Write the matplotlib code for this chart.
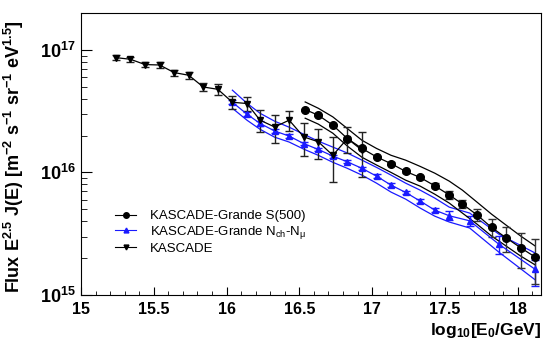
import matplotlib
matplotlib.use('Agg')
import matplotlib.pyplot as plt
from matplotlib.lines import Line2D
from matplotlib.ticker import FixedLocator, FixedFormatter, LogLocator, NullFormatter, MultipleLocator

plt.rcParams['font.family'] = ['Liberation Sans', 'DejaVu Sans']
plt.rcParams['mathtext.fontset'] = 'custom'
plt.rcParams['mathtext.rm'] = 'Liberation Sans'
plt.rcParams['mathtext.it'] = 'Liberation Sans:italic'
plt.rcParams['mathtext.bf'] = 'Liberation Sans:bold'

# KASCADE (units of 1e16)
kas_x = [15.24, 15.34, 15.44, 15.54, 15.64, 15.74, 15.84, 15.94, 16.04, 16.14,
         16.23, 16.33, 16.43, 16.53, 16.63, 16.73, 16.83, 16.93]
kas_y = [8.65, 8.38, 7.59, 7.53, 6.53, 6.21, 4.98, 4.77, 3.74, 3.65,
         2.67, 2.35, 2.67, 1.95, 1.78, 1.38, 1.89, 1.52]
kas_err = [0.40, 0.40, 0.38, 0.38, 0.36, 0.38, 0.40, 0.45, 0.45, 0.50,
           0.55, 0.60, 0.50, 0.58, 0.49, 0.55, 0.46, 0.60]

# KASCADE-Grande S(500) (units of 1e15)
s5_x = [16.54, 16.63, 16.73, 16.83, 16.93, 17.03, 17.13, 17.23, 17.33, 17.43,
        17.53, 17.62, 17.72, 17.82, 17.92, 18.02, 18.12]
s5_y = [32.6, 29.3, 24.3, 18.9, 15.7, 13.4, 11.8, 10.2, 9.1, 7.78,
        6.55, 5.52, 4.51, 3.56, 2.93, 2.43, 2.04]
s5_err = [0.6, 0.5, 0.4, 0.4, 0.3, 0.3, 0.3, 0.3, 0.3, 0.35,
          0.5, 0.42, 0.5, 0.6, 0.67, 0.78, 0.82]
s5_up = [37.6, 33.4, 28.4, 22.8, 18.3, 15.7, 13.8, 12.6, 11.2, 9.87,
         8.49, 7.17, 5.73, 4.57, 3.72, 3.03, 2.51]
s5_lo = [27.7, 24.8, 20.9, 16.4, 13.3, 11.5, 10.0, 8.65, 7.73, 6.65,
         5.62, 4.66, 3.79, 3.03, 2.51, 2.08, 1.76]

# KASCADE-Grande Nch-Nmu (units of 1e15)
nc_x = [16.04, 16.14, 16.23, 16.33, 16.43, 16.53, 16.63, 16.73, 16.83, 16.93,
        17.03, 17.13, 17.23, 17.33, 17.43, 17.53, 17.67, 17.87, 18.12]
nc_y = [37.4, 29.9, 25.1, 21.8, 19.8, 17.2, 15.4, 13.6, 12.2, 10.8,
        9.33, 7.88, 6.87, 5.84, 4.93, 4.43, 4.03, 2.60, 1.62]
nc_elo = [1.5, 1.2, 1.0, 0.8, 0.7, 0.6, 0.5, 0.4, 0.35, 0.3,
          0.3, 0.25, 0.2, 0.2, 0.2, 0.35, 0.35, 0.42, 0.44]
nc_ehi = [1.5, 1.2, 1.0, 0.8, 0.7, 0.6, 0.5, 0.4, 0.35, 0.3,
          0.3, 0.25, 0.2, 0.2, 0.2, 0.4, 0.38, 0.45, 0.30]
nc_up = [46.9, 36.7, 30.4, 26.2, 23.4, 20.5, 18.0, 16.1, 14.4, 12.6,
         11.0, 9.51, 8.18, 7.17, 6.18, 5.21, 4.66, 3.14, 2.20]
nc_lo = [33.4, 26.7, 22.5, 19.4, 17.7, 15.5, 13.8, 12.1, 10.8, 9.51,
         8.18, 6.91, 6.06, 5.12, 4.40, 3.94, 3.52, 2.24, 1.33]

fig = plt.figure(figsize=(5.43, 3.43), dpi=100)
ax = fig.add_axes([81/543, 48/343, 460/543, 282/343])

blue = '#1a1aff'

# Nch-Nmu band and points
ax.plot(nc_x, [v*1e15 for v in nc_up], color=blue, lw=0.9)
ax.plot(nc_x, [v*1e15 for v in nc_lo], color=blue, lw=0.9)
ax.errorbar(nc_x, [v*1e15 for v in nc_y],
            yerr=[[v*1e15 for v in nc_elo], [v*1e15 for v in nc_ehi]],
            color=blue, marker='^', ms=5, lw=0.9, elinewidth=1, capsize=3)

# S(500) band and points
ax.plot(s5_x, [v*1e15 for v in s5_up], color='k', lw=0.9)
ax.plot(s5_x, [v*1e15 for v in s5_lo], color='k', lw=0.9)
ax.errorbar(s5_x, [v*1e15 for v in s5_y], yerr=[v*1e15 for v in s5_err],
            color='k', marker='o', ms=5.5, lw=0.9, elinewidth=1, capsize=3,
            ecolor='#333333')

# KASCADE
ax.errorbar(kas_x, [v*1e16 for v in kas_y], yerr=[v*1e16 for v in kas_err],
            color='k', marker='v', ms=5, lw=0.9, elinewidth=1, capsize=3,
            ecolor='#222222')

ax.set_yscale('log')
ax.set_xlim(15, 18.16)
ax.set_ylim(1e15, 2e17)

ax.xaxis.set_major_locator(MultipleLocator(0.5))
ax.xaxis.set_minor_locator(MultipleLocator(0.1))
ax.xaxis.set_major_formatter(matplotlib.ticker.FuncFormatter(
    lambda v, p: ('%g' % v)))
ax.yaxis.set_major_locator(FixedLocator([1e15, 1e16, 1e17]))
ax.yaxis.set_major_formatter(FixedFormatter(
    [r'$\mathbf{10^{15}}$', r'$\mathbf{10^{16}}$', r'$\mathbf{10^{17}}$']))
ax.yaxis.set_minor_locator(LogLocator(base=10, subs=range(2, 10)))
ax.yaxis.set_minor_formatter(NullFormatter())

ax.tick_params(which='both', direction='in', top=False, right=False)
ax.tick_params(axis='x', which='major', length=6, labelsize=11.5, pad=5)
ax.tick_params(axis='x', which='minor', length=3)
ax.tick_params(axis='y', which='major', length=8, labelsize=13, pad=4)
ax.tick_params(axis='y', which='minor', length=4)
for lab in ax.get_xticklabels() + ax.get_yticklabels():
    lab.set_fontweight('bold')

ax.set_xlabel(r'log$_{\mathbf{10}}$[E$_{\mathbf{0}}$/GeV]', fontsize=12.5,
              fontweight='bold', ha='right')
ax.xaxis.set_label_coords(1.0, -0.092)
ax.set_ylabel(r'Flux E$^{\mathbf{2.5}}$ J(E) [m$^{\mathbf{-2}}$ s$^{\mathbf{-1}}$ '
              r'sr$^{\mathbf{-1}}$ eV$^{\mathbf{1.5}}$]', fontsize=13,
              fontweight='bold', va='center')
ax.yaxis.set_label_coords(-0.146, 0.49)

handles = [Line2D([], [], color='k', marker='o', ms=4, lw=0.8),
           Line2D([], [], color=blue, marker='^', ms=3.5, lw=0.8),
           Line2D([], [], color='k', marker='v', ms=3.5, lw=0.8)]
labels = ['KASCADE-Grande S(500)',
          r'KASCADE-Grande N$_{\mathrm{ch}}$-N$_{\mathrm{\mu}}$',
          'KASCADE']
ax.legend(handles, labels, loc='upper left', bbox_to_anchor=(0.06, 0.325),
          frameon=False, fontsize=9.5, handlelength=1.6, handletextpad=1.0,
          labelspacing=0.12, borderpad=0)

fig.savefig('out.png', dpi=100)
